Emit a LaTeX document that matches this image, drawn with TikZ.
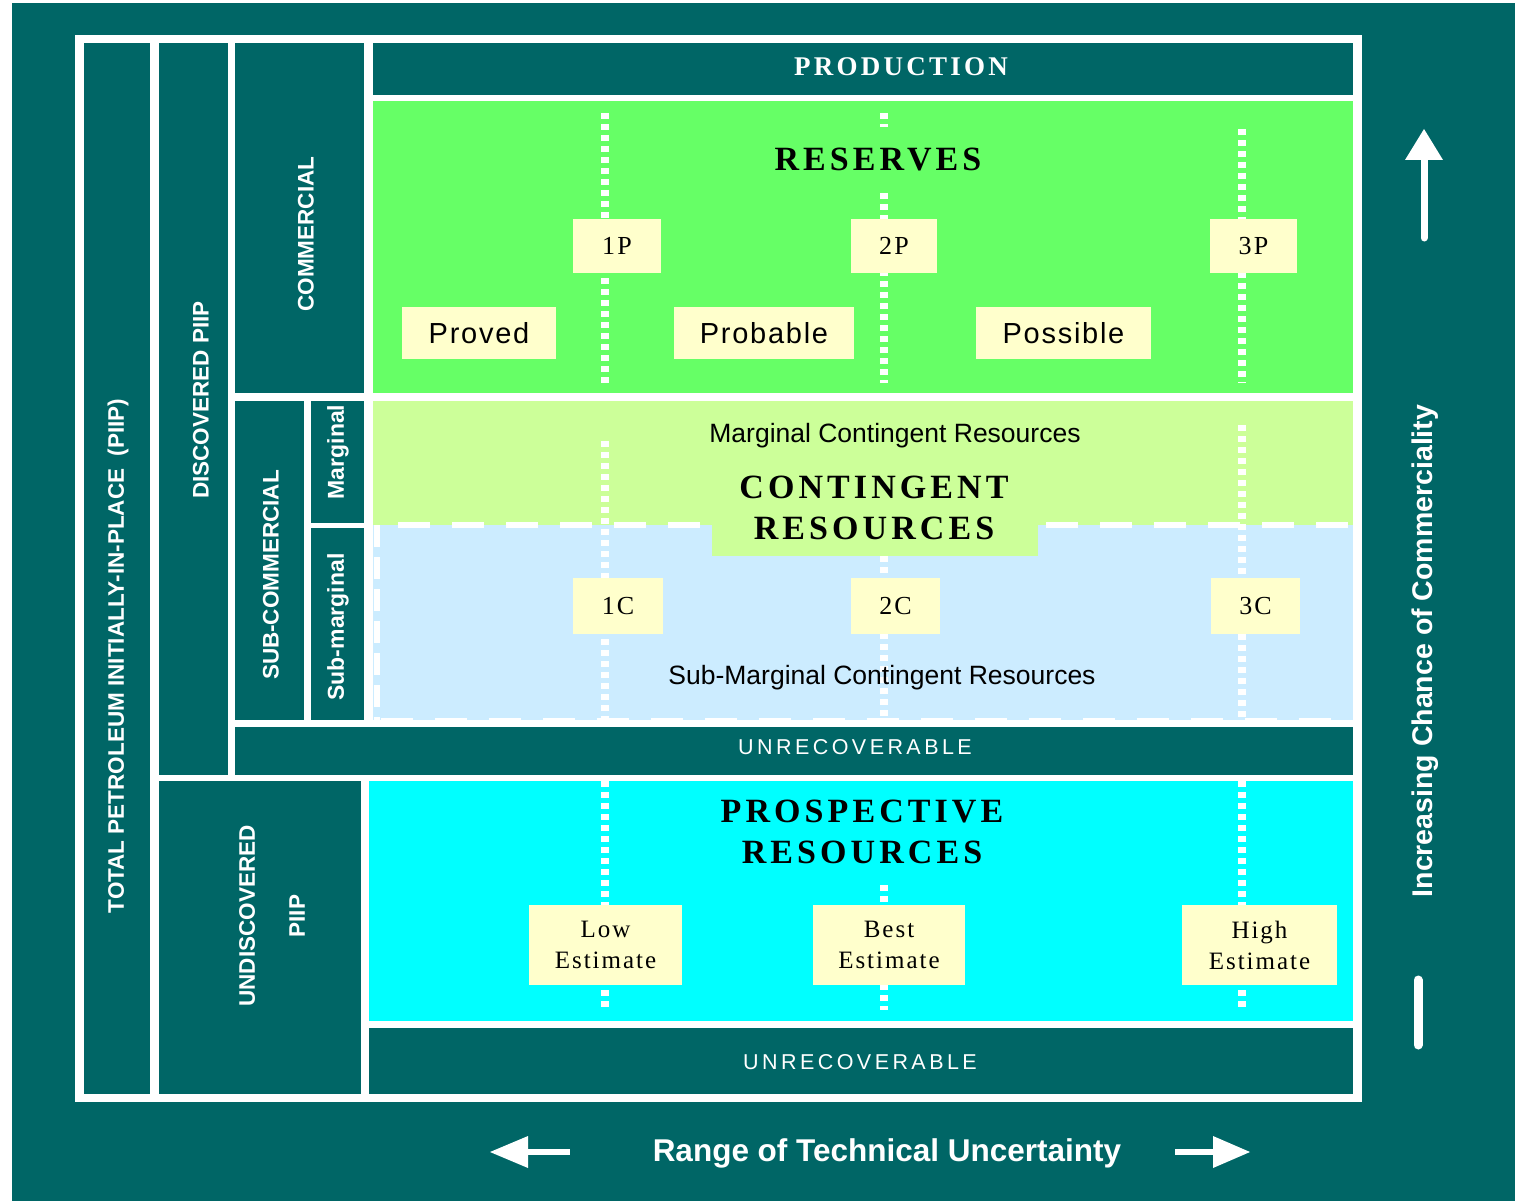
\documentclass[tikz,border=0pt]{standalone}
\usepackage{fontspec}
\setmainfont{Liberation Sans}
\newfontfamily\ttlfont[LetterSpace=12]{Liberation Serif}
\newfontfamily\boxserif[LetterSpace=8]{Liberation Serif}
\newfontfamily\boxsans[LetterSpace=6]{Liberation Sans}
\newfontfamily\unrfont[LetterSpace=16]{Liberation Sans}
\definecolor{tealbg}{HTML}{006666}
\definecolor{resgreen}{HTML}{66FF66}
\definecolor{margreen}{HTML}{CCFF99}
\definecolor{subblue}{HTML}{CCECFF}
\definecolor{prospcyan}{HTML}{00FFFF}
\definecolor{labyellow}{HTML}{FFFFCC}
\begin{document}
\begin{tikzpicture}[x=1pt,y=-1pt,
  tealbox/.style={fill=tealbg},
  vlab/.style={text=white, rotate=90, inner sep=0pt, font=\bfseries\fontsize{22.5}{26}\selectfont},
  vlabb/.style={text=white, rotate=90, inner sep=0pt, font=\bfseries\fontsize{23}{26}\selectfont},
  ttl/.style={inner sep=0pt, align=center, font=\ttlfont\bfseries\fontsize{34}{41}\selectfont},
  ybox/.style={fill=labyellow, inner sep=0pt, align=center},
  pbox/.style={ybox, font=\boxsans\fontsize{29}{31}\selectfont},
  nbox/.style={ybox, font=\boxserif\fontsize{26}{30}\selectfont},
  ebox/.style={ybox, font=\boxserif\fontsize{25}{31}\selectfont},
  unr/.style={text=white, inner sep=0pt, font=\unrfont\fontsize{21.5}{24}\selectfont},
  dotline/.style={draw=white, line width=8pt, dash pattern=on 6pt off 5pt},
  dashline/.style={draw=white, line width=6pt, dash pattern=on 32pt off 22pt},
  arrowshape/.style={fill=white, draw=none}
]
\useasboundingbox (0,0) rectangle (1515,1201);
\fill[white] (0,0) rectangle (1515,1201);
\fill[tealbg] (12,3) rectangle (1515,1201);
\fill[white] (75,35) rectangle (1362,1102);

% left columns
\fill[tealbox] (84,43) rectangle (150,1094);
\fill[tealbox] (159,43) rectangle (228,775);
\fill[tealbox] (235,43) rectangle (364,393);
\fill[tealbox] (235,401) rectangle (304,720);
\fill[tealbox] (311,401) rectangle (364,523);
\fill[tealbox] (311,528) rectangle (364,720);
\fill[tealbox] (235,727) rectangle (1353,775);
\fill[tealbox] (159,781) rectangle (361,1094);

% main area
\fill[tealbox] (373,43) rectangle (1353,95);
\fill[resgreen] (373,101) rectangle (1353,393);
\fill[margreen] (373,401) rectangle (1353,525);
\fill[subblue] (373,525) rectangle (1353,720);
\fill[prospcyan] (369,781) rectangle (1353,1021);
\fill[tealbox] (369,1028) rectangle (1353,1094);

% dashed borders of sub-marginal area
\draw[dashline] (398,525) -- (1353,525);
\draw[white, line width=6pt, dash pattern=on 22pt off 10pt] (377,525) -- (377,720);
\draw[white, line width=3pt, dash pattern=on 32pt off 22pt] (381,719) -- (1353,719);
\fill[margreen] (712,401) rectangle (1038,556);

% dotted vertical lines
\draw[dotline] (605,113) -- (605,383);
\draw[dotline] (884,113) -- (884,127);
\draw[dotline] (884,193) -- (884,383);
\draw[dotline] (1242,129) -- (1242,383);
\draw[dotline] (605,441) -- (605,720);
\draw[dotline] (884,556) -- (884,720);
\draw[dotline] (1242,425) -- (1242,720);
\draw[dotline] (605,781) -- (605,1010);
\draw[dotline] (884,885) -- (884,1010);
\draw[dotline] (1242,781) -- (1242,1010);

% vertical labels
\node[vlab] (total) at (118,656) {TOTAL PETROLEUM INITIALLY-IN-PLACE\ \ (PIIP)};
\node[vlab] (disc) at (201,400) {DISCOVERED PIIP};
\node[vlab] (comm) at (306,234) {COMMERCIAL};
\node[vlab] (subcomm) at (271,575) {SUB-COMMERCIAL};
\node[vlabb] (marg) at (338,452) {Marginal};
\node[vlabb] (submarg) at (338,627) {Sub-marginal};
\node[vlab, align=center, font=\bfseries\fontsize{22.5}{50}\selectfont] (undisc) at (272,916) {UNDISCOVERED\\PIIP};

% titles
\node[ttl, text=white, font=\ttlfont\bfseries\fontsize{27}{30}\selectfont] (prod) at (901,67) {PRODUCTION};
\node[ttl] (res) at (878,160) {RESERVES};
\node[ttl] (cont) at (874,508) {CONTINGENT\\RESOURCES};
\node[ttl] (prosp) at (862,832) {PROSPECTIVE\\RESOURCES};
\node[inner sep=0pt, font=\fontsize{26.5}{30}\selectfont] (mcr) at (895,436) {Marginal Contingent Resources};
\node[inner sep=0pt, font=\fontsize{26.5}{30}\selectfont] (smcr) at (882,678) {Sub-Marginal Contingent Resources};
\node[unr] (unr1) at (855,747) {UNRECOVERABLE};
\node[unr] (unr2) at (860,1062) {UNRECOVERABLE};

% label boxes
\node[nbox, minimum width=88pt, minimum height=54pt] (p1) at (617,246) {1P};
\node[nbox, minimum width=86pt, minimum height=54pt] (p2) at (894,246) {2P};
\node[nbox, minimum width=87pt, minimum height=54pt] (p3) at (1253.5,246) {3P};
\node[pbox, minimum width=154pt, minimum height=52pt] (proved) at (479,333) {Proved};
\node[pbox, minimum width=180pt, minimum height=52pt] (probable) at (764,333) {Probable};
\node[pbox, minimum width=175pt, minimum height=52pt] (possible) at (1063.5,333) {Possible};
\node[nbox, minimum width=90pt, minimum height=56pt] (c1) at (618,606) {1C};
\node[nbox, minimum width=89pt, minimum height=56pt] (c2) at (895.5,606) {2C};
\node[nbox, minimum width=89pt, minimum height=56pt] (c3) at (1255.5,606) {3C};
\node[ebox, minimum width=153pt, minimum height=80pt] (low) at (605.5,945) {Low\\Estimate};
\node[ebox, minimum width=152pt, minimum height=80pt] (best) at (889,945) {Best\\Estimate};
\node[ebox, minimum width=155pt, minimum height=80pt] (high) at (1259.5,945) {High\\Estimate};

% right side arrow
\draw[white, line width=7pt, line cap=round] (1424,238) -- (1424,158);
\fill[arrowshape] (1405,160) -- (1443,160) -- (1424,129) -- cycle;
\draw[white, line width=9pt, line cap=round] (1418,980) -- (1418,1045);
\node[text=white, rotate=90, inner sep=0pt, font=\bfseries\fontsize{28.5}{32}\selectfont] (icc) at (1425,651) {Increasing Chance of Commerciality};

% bottom arrows and label
\draw[white, line width=6pt] (526,1152) -- (570,1152);
\fill[arrowshape] (490,1152) -- (528,1136) -- (528,1168) -- cycle;
\draw[white, line width=6pt] (1175,1152) -- (1215,1152);
\fill[arrowshape] (1250,1152) -- (1213,1136) -- (1213,1168) -- cycle;
\node[text=white, inner sep=0pt, font=\bfseries\fontsize{31.5}{34}\selectfont] (rtu) at (887,1153) {Range of Technical Uncertainty};
\end{tikzpicture}
\end{document}
